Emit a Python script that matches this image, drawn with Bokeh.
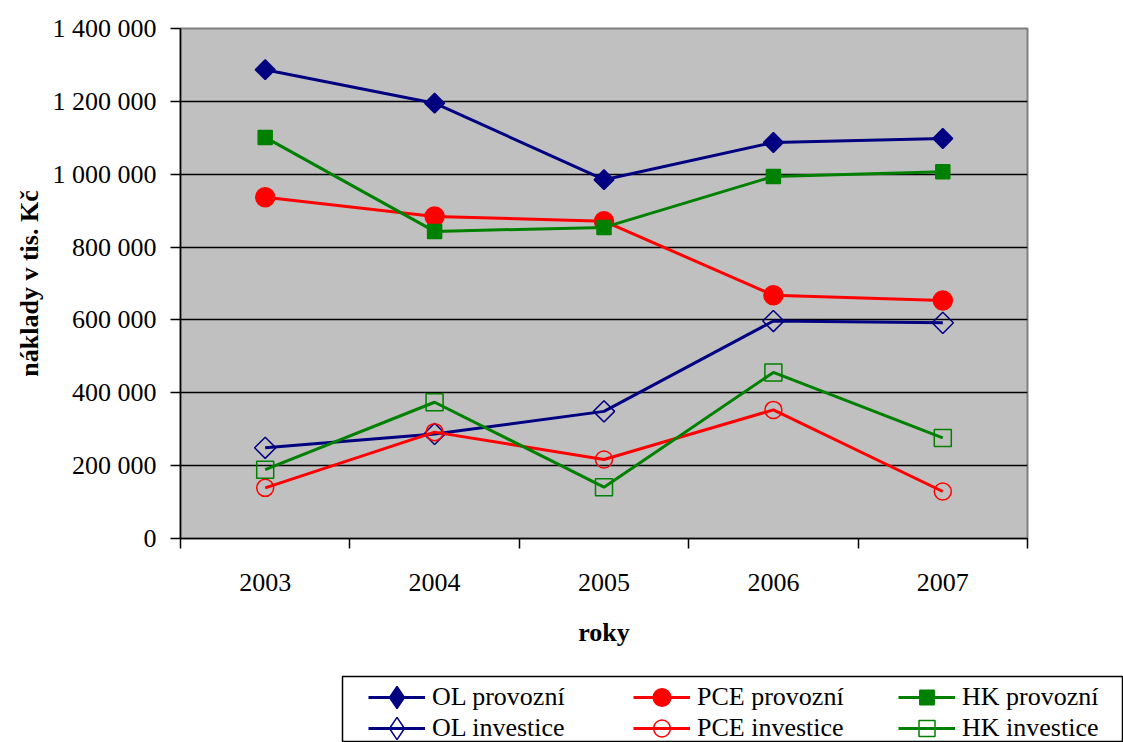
from bokeh.plotting import figure
from bokeh.layouts import column, row
from bokeh.models import Range1d, FixedTicker, Legend, LegendItem
from bokeh.embed import file_html
from bokeh.resources import INLINE
import math

# ---- data ----
years = ["2003", "2004", "2005", "2006", "2007"]
ol_provozni = [1287000, 1195000, 985000, 1087000, 1098000]
pce_provozni = [937000, 884000, 871000, 668000, 653000]
hk_provozni = [1101000, 843000, 854000, 994000, 1007000]
ol_investice = [249000, 287000, 349000, 597000, 592000]
pce_investice = [139000, 292000, 217000, 353000, 129000]
hk_investice = [189000, 374000, 141000, 456000, 276000]

y_ticks = [0, 200000, 400000, 600000, 800000, 1000000, 1200000, 1400000]
y_tick_labels = ["0", "200 000", "400 000", "600 000", "800 000", "1 000 000", "1 200 000", "1 400 000"]

FONT = "Liberation Serif"
NAVY, RED, GREEN = "#000080", "#FF0000", "#008000"

xs = list(range(1, len(years) + 1))

p = figure(width=1123, height=672,
           x_range=Range1d(0.5, len(years) + 0.5), y_range=Range1d(0, 1400000),
           output_backend="svg", toolbar_location=None,
           min_border_left=180, min_border_right=96, min_border_top=28, min_border_bottom=134)
p.background_fill_color = "#C0C0C0"
p.border_fill_color = "white"
p.outline_line_color = "#808080"
p.outline_line_width = 2

p.xgrid.visible = False
p.ygrid.ticker = FixedTicker(ticks=y_ticks)
p.ygrid.grid_line_color = "black"
p.ygrid.grid_line_width = 1.5
p.ygrid.grid_line_alpha = 1.0

# x axis: labels at category centres, tick marks between categories
p.xaxis.ticker = FixedTicker(ticks=xs, minor_ticks=[x - 0.5 for x in xs] + [xs[-1] + 0.5])
p.xaxis.major_label_overrides = {x: y for x, y in zip(xs, years)}
p.xaxis.major_tick_out = 0
p.xaxis.major_tick_in = 0
p.xaxis.minor_tick_out = 10
p.xaxis.minor_tick_in = 0
p.xaxis.minor_tick_line_color = "black"
p.xaxis.minor_tick_line_width = 1.5
p.xaxis.major_label_standoff = 25
p.xaxis.axis_label = "roky"
p.xaxis.axis_label_standoff = 24

p.yaxis.ticker = FixedTicker(ticks=y_ticks, minor_ticks=[])
p.yaxis.major_label_overrides = {t: l for t, l in zip(y_ticks, y_tick_labels)}
p.yaxis.major_tick_out = 10
p.yaxis.major_tick_in = 0
p.yaxis.minor_tick_out = 0
p.yaxis.minor_tick_in = 0
p.yaxis.major_label_standoff = 14
p.yaxis.axis_label = "náklady v tis. Kč"
p.yaxis.axis_label_standoff = 6

for ax in (p.xaxis[0], p.yaxis[0]):
    ax.axis_line_color = "black"
    ax.axis_line_width = 1.5
    ax.major_tick_line_color = "black"
    ax.major_tick_line_width = 1.5
    ax.major_label_text_font = FONT
    ax.major_label_text_font_size = "26px"
    ax.major_label_text_color = "black"
    ax.axis_label_text_font = FONT
    ax.axis_label_text_font_size = "26px"
    ax.axis_label_text_font_style = "bold"
    ax.axis_label_text_color = "black"

# label, values, colour, chart marker, chart size, angle, filled, legend marker, legend size, col, row
series = [
    ("OL provozní", ol_provozni, NAVY, "square", 14, math.pi / 4, True, "diamond", 22, 0, 0),
    ("PCE provozní", pce_provozni, RED, "circle", 19, 0, True, "circle", 18, 1, 0),
    ("HK provozní", hk_provozni, GREEN, "square", 14, 0, True, "square", 14, 2, 0),
    ("OL investice", ol_investice, NAVY, "square", 15, math.pi / 4, False, "diamond", 22, 0, 1),
    ("PCE investice", pce_investice, RED, "circle", 17, 0, False, "circle", 17, 1, 1),
    ("HK investice", hk_investice, GREEN, "square", 17, 0, False, "square", 16, 2, 1),
]

# legend strip under the chart: its frame is the legend box; its ranges keep the
# proxy series out of view so that only the legend entries show
lg = figure(width=1123, height=70, x_range=Range1d(-2, -1), y_range=Range1d(0, 1),
            output_backend="svg", toolbar_location=None,
            min_border_left=342, min_border_right=0, min_border_top=4, min_border_bottom=0)
lg.axis.visible = False
lg.grid.visible = False
lg.background_fill_color = "white"
lg.border_fill_color = "white"
lg.outline_line_color = "black"
lg.outline_line_width = 1.5

col_x = [26, 291, 556]        # glyph start inside the legend box
row_c = [21, 52]              # row centres below the box top
box_h = 66

for label, vals, color, marker, size, angle, filled, lmarker, lsize, c, r in series:
    p.line(xs, vals, line_color=color, line_width=3)
    p.scatter(xs, vals, marker=marker, size=size, angle=angle,
              line_color=color, line_width=1.5,
              fill_color=color if filled else None,
              fill_alpha=1.0 if filled else 0.0)
    lr = lg.line(xs, vals, line_color=color, line_width=3)
    sr = lg.scatter(xs, vals, marker=lmarker, size=lsize,
                    line_color=color, line_width=1.5,
                    fill_color=color if filled else None,
                    fill_alpha=1.0 if filled else 0.0)
    gh = int(round(lsize / 0.4 / 2)) * 2
    leg = Legend(items=[LegendItem(label=label, renderers=[lr, sr])],
                 location=(col_x[c], int(box_h - row_c[r] - gh // 2)),
                 margin=0, padding=0, spacing=0,
                 glyph_width=57, glyph_height=gh, label_standoff=7,
                 label_text_font=FONT, label_text_font_size="26px", label_text_color="black",
                 border_line_alpha=0, background_fill_alpha=0)
    lg.add_layout(leg, "center")

layout = column(p, row(lg), spacing=0)
open("out.html", "w").write(file_html(layout, INLINE))
